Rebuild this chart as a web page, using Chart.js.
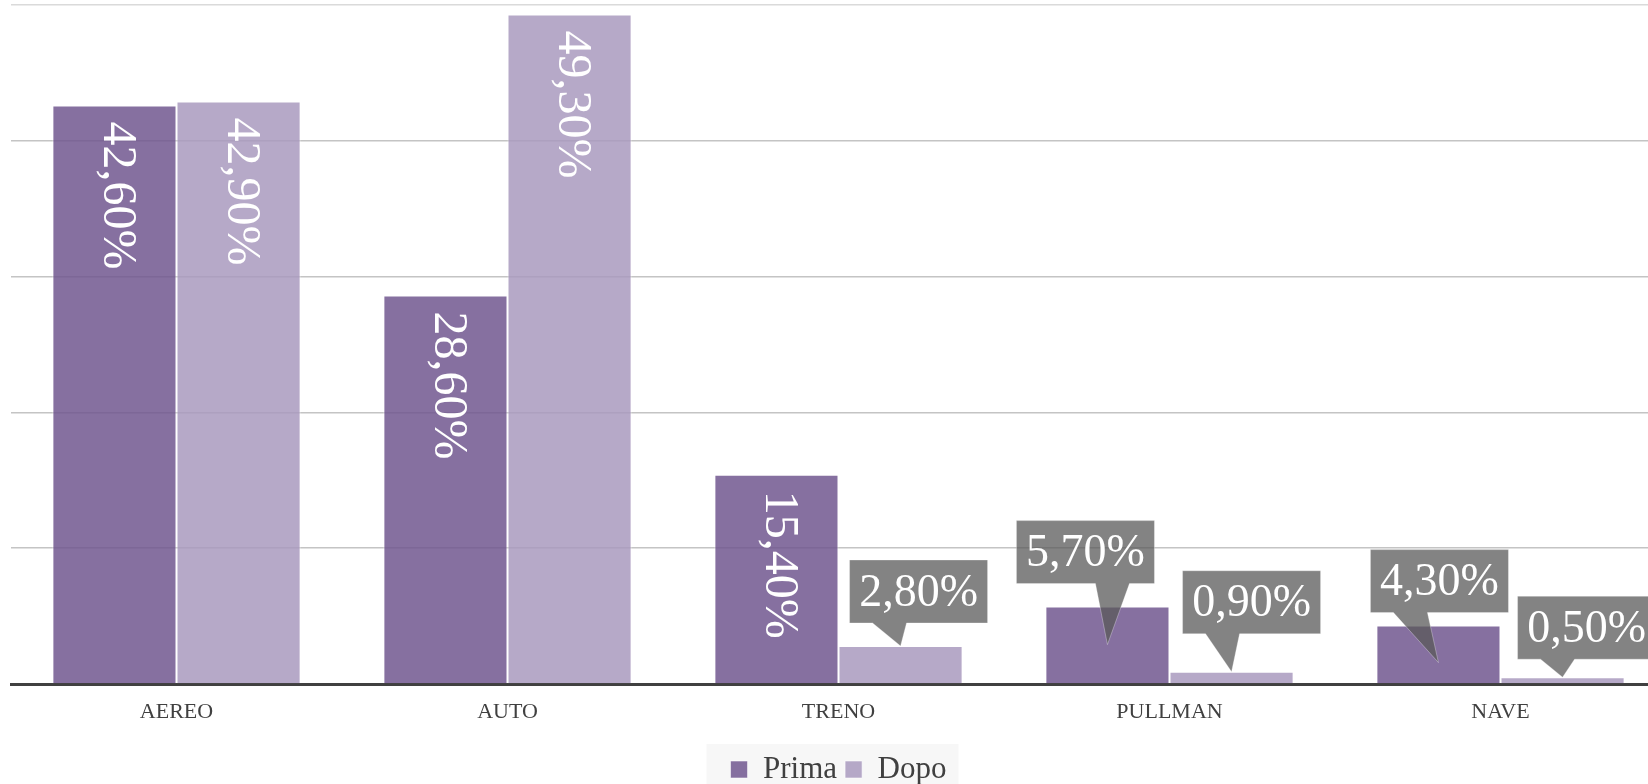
<!DOCTYPE html>
<html>
<head>
<meta charset="utf-8">
<script src="https://cdn.jsdelivr.net/npm/chart.js@4.4.1/dist/chart.umd.min.js"></script>
<style>
	html, body { margin: 0; padding: 0; background: #fff; overflow: hidden; }
	#wrap { position: relative; width: 1670px; height: 797px; }
</style>
</head>
<body>
<div id="wrap"><canvas id="chart"></canvas></div>
<script>
const categories = ['AEREO', 'AUTO', 'TRENO', 'PULLMAN', 'NAVE'];
const seriesNames = ['Prima', 'Dopo'];
const prima = [42.6, 28.6, 15.4, 5.7, 4.3];
const dopo = [42.9, 49.3, 2.8, 0.9, 0.5];

const serif = '"Liberation Serif", "DejaVu Serif", serif';

// callout placement for the small values (dataset-index)
const callouts = {
	'1-2': { dx: -51, gap: 23, tip: 0, base: 40 },
	'0-3': { dx: -91, gap: 23, tip: 38, base: 96 },
	'1-3': { dx: -49, gap: 38, tip: 0, base: 40 },
	'0-4': { dx: -68, gap: 13, tip: 37, base: 40 },
	'1-4': { dx: -45, gap: 18, tip: 0, base: 40 }
};

function fmt(v) {
	return v.toFixed(2).replace('.', ',') + '%';
}

const legendBg = {
	id: 'legendBg',
	beforeDraw(chart) {
		const boxes = chart.legend && chart.legend.legendHitBoxes;
		if (!boxes || !boxes.length) return;
		const left = Math.min(...boxes.map(b => b.left));
		const right = Math.max(...boxes.map(b => b.left + b.width));
		const top = boxes[0].top;
		const ctx = chart.ctx;
		ctx.save();
		ctx.fillStyle = '#f7f7f7';
		ctx.fillRect(left - 24, top - 10, right - left + 36, 48);
		ctx.restore();
	}
};

const barLabels = {
	id: 'barLabels',
	afterDatasetsDraw(chart) {
		const ctx = chart.ctx;
		chart.data.datasets.forEach((ds, di) => {
			chart.getDatasetMeta(di).data.forEach((bar, i) => {
				const v = ds.data[i];
				const text = fmt(v);
				ctx.save();
				ctx.fillStyle = '#fff';
				if (v >= 10) {
					ctx.translate(bar.x + 2, bar.y + 16);
					ctx.rotate(Math.PI / 2);
					ctx.font = '48px ' + serif;
					ctx.textAlign = 'left';
					ctx.textBaseline = 'middle';
					ctx.fillText(text, 0, 0);
				} else {
					const c = callouts[di + '-' + i];
					const w = 138, h = 63;
					const left = bar.x + c.dx;
					const bottom = bar.y - c.gap;
					const top = bottom - h;
					ctx.beginPath();
					ctx.moveTo(left, top);
					ctx.lineTo(left + w, top);
					ctx.lineTo(left + w, bottom);
					ctx.lineTo(left + c.base + 17, bottom);
					ctx.lineTo(bar.x, bar.y + c.tip);
					ctx.lineTo(left + c.base - 17, bottom);
					ctx.lineTo(left, bottom);
					ctx.closePath();
					ctx.fillStyle = 'rgba(90, 90, 90, 0.75)';
					ctx.fill();
					ctx.strokeStyle = 'rgba(255, 255, 255, 0.3)';
					ctx.lineWidth = 1;
					ctx.stroke();
					ctx.fillStyle = '#fff';
					ctx.font = '46px ' + serif;
					ctx.textAlign = 'center';
					ctx.textBaseline = 'middle';
					ctx.fillText(text, left + w / 2, top + h / 2 + 2);
				}
				ctx.restore();
			});
		});
	}
};

const ctx = document.getElementById('chart').getContext('2d');

new Chart(ctx, {
	type: 'bar',
	data: {
		labels: categories,
		datasets: [
			{
				label: seriesNames[0],
				data: prima,
				backgroundColor: 'rgba(113, 87, 143, 0.85)',
				borderColor: 'rgba(255, 255, 255, 0.55)',
				borderWidth: 1
			},
			{
				label: seriesNames[1],
				data: dopo,
				backgroundColor: 'rgba(169, 154, 190, 0.85)',
				borderColor: 'rgba(255, 255, 255, 0.55)',
				borderWidth: 1
			}
		]
	},
	options: {
		responsive: true,
		maintainAspectRatio: false,
		animation: false,
		devicePixelRatio: 1,
		categoryPercentage: 0.75,
		barPercentage: 1,
		layout: { padding: { left: 11, right: 4, top: 5, bottom: 2 } },
		plugins: {
			tooltip: { enabled: false },
			legend: {
				position: 'bottom',
				labels: {
					boxWidth: 17,
					boxHeight: 17,
					padding: 8,
					color: '#404040',
					font: { family: serif, size: 31 }
				}
			}
		},
		scales: {
			x: {
				z: 1,
				grid: { display: false, drawTicks: false },
				border: { color: '#404040', width: 3 },
				ticks: {
					color: '#404040',
					padding: 15,
					font: { family: serif, size: 22 }
				},
				afterFit(scale) {
					scale.height = 62;
				}
			},
			y: {
				min: 0,
				max: 50,
				ticks: { stepSize: 10, display: false },
				border: { display: false },
				grid: {
					drawTicks: false,
					lineWidth: 1.5,
					color: c => (c.tick && c.tick.value === 50 ? '#dadada' : '#c4c4c4')
				}
			}
		}
	},
	plugins: [legendBg, barLabels]
});
</script>
</body>
</html>
